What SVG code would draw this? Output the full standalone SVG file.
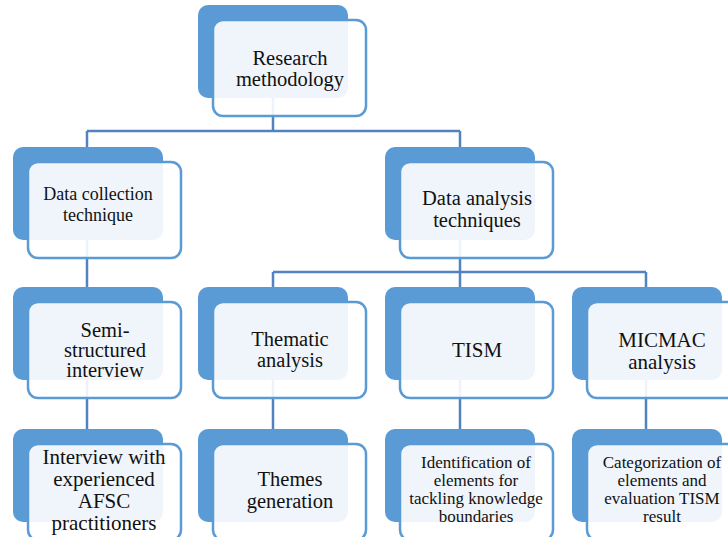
<svg xmlns="http://www.w3.org/2000/svg" width="728" height="537" viewBox="0 0 728 537">
<style>
.bk{fill:#5b9bd5}
.fr{fill:#ffffff;fill-opacity:0.9;stroke:#5b9bd5;stroke-width:2.5}
.ln{stroke:#5283c0;stroke-width:2.5;fill:none}
text{font-family:'Liberation Serif','Times New Roman','DejaVu Serif',serif;fill:#111;text-anchor:middle}
.t20{font-size:20.5px}
.t21{font-size:21px}
.t18{font-size:18px}
.t17{font-size:17px}
</style>
<rect width="728" height="537" fill="#ffffff"/>
<g id="connectors">
<path class="ln" d="M273 98V131M87 131H460M87 131V147M460 131V147"/>
<path class="ln" d="M87 240V287"/>
<path class="ln" d="M460 240V272M273 272H646M273 272V287M460 272V287M646 272V287"/>
<path class="ln" d="M87 380V429M273 380V429M460 380V429M646 380V429"/>
</g>
<g id="research-methodology">
<rect class="bk" x="198" y="5" width="150" height="93" rx="10"/>
<rect class="fr" x="213" y="20" width="153" height="96" rx="10"/>
<text class="t20" x="290" y="65">Research</text>
<text class="t20" x="290" y="86">methodology</text>
</g>
<g id="data-collection">
<rect class="bk" x="13" y="147" width="150" height="93" rx="10"/>
<rect class="fr" x="28" y="162" width="153" height="96" rx="10"/>
<text class="t18" x="98" y="200">Data collection</text>
<text class="t18" x="98" y="221">technique</text>
</g>
<g id="data-analysis">
<rect class="bk" x="385" y="147" width="150" height="93" rx="10"/>
<rect class="fr" x="400" y="162" width="153" height="96" rx="10"/>
<text class="t20" x="477" y="205">Data analysis</text>
<text class="t20" x="477" y="227">techniques</text>
</g>
<g id="semi-structured">
<rect class="bk" x="13" y="287" width="150" height="93" rx="10"/>
<rect class="fr" x="28" y="302" width="153" height="96" rx="10"/>
<text class="t20" x="105" y="337">Semi-</text>
<text class="t20" x="105" y="357">structured</text>
<text class="t20" x="105" y="377">interview</text>
</g>
<g id="thematic-analysis">
<rect class="bk" x="198" y="287" width="150" height="93" rx="10"/>
<rect class="fr" x="213" y="302" width="153" height="96" rx="10"/>
<text class="t20" x="290" y="346">Thematic</text>
<text class="t20" x="290" y="367">analysis</text>
</g>
<g id="tism">
<rect class="bk" x="385" y="287" width="150" height="93" rx="10"/>
<rect class="fr" x="400" y="302" width="153" height="96" rx="10"/>
<text class="t21" x="477" y="357">TISM</text>
</g>
<g id="micmac">
<rect class="bk" x="572" y="287" width="150" height="93" rx="10"/>
<rect class="fr" x="587" y="302" width="153" height="96" rx="10"/>
<text class="t21" x="662" y="347">MICMAC</text>
<text class="t21" x="662" y="369">analysis</text>
</g>
<g id="interview">
<rect class="bk" x="13" y="429" width="150" height="93" rx="10"/>
<rect class="fr" x="28" y="444" width="153" height="96" rx="10"/>
<text class="t21" x="104" y="464">Interview with</text>
<text class="t21" x="104" y="486">experienced</text>
<text class="t21" x="104" y="508">AFSC</text>
<text class="t21" x="104" y="530">practitioners</text>
</g>
<g id="themes-generation">
<rect class="bk" x="198" y="429" width="150" height="93" rx="10"/>
<rect class="fr" x="213" y="444" width="153" height="96" rx="10"/>
<text class="t20" x="290" y="486">Themes</text>
<text class="t20" x="290" y="508">generation</text>
</g>
<g id="identification">
<rect class="bk" x="385" y="429" width="150" height="93" rx="10"/>
<rect class="fr" x="400" y="444" width="153" height="96" rx="10"/>
<text class="t17" x="476" y="468">Identification of</text>
<text class="t17" x="476" y="486">elements for</text>
<text class="t17" x="476" y="504">tackling knowledge</text>
<text class="t17" x="476" y="522">boundaries</text>
</g>
<g id="categorization">
<rect class="bk" x="572" y="429" width="150" height="93" rx="10"/>
<rect class="fr" x="587" y="444" width="153" height="96" rx="10"/>
<text class="t17" x="662" y="468">Categorization of</text>
<text class="t17" x="662" y="486">elements and</text>
<text class="t17" x="662" y="504">evaluation TISM</text>
<text class="t17" x="662" y="522">result</text>
</g>
</svg>
